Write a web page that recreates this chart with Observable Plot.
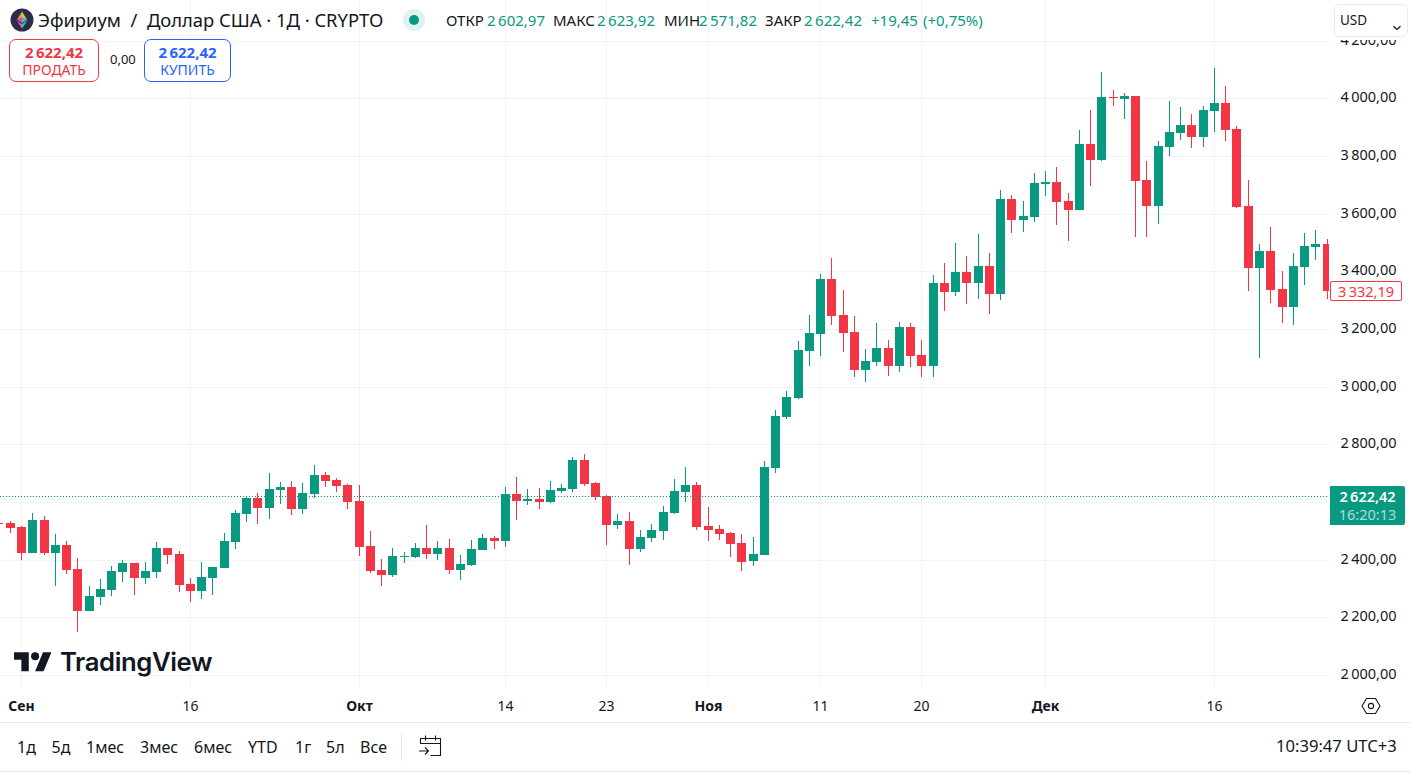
<!DOCTYPE html>
<html lang="ru">
<head>
<meta charset="utf-8">
<script src="https://cdn.jsdelivr.net/npm/d3@7"></script>
<script src="https://cdn.jsdelivr.net/npm/@observablehq/plot@0.6"></script>
<style>
html,body{margin:0;padding:0;background:#fff;}
#wrap{position:relative;width:1410px;height:772px;overflow:hidden;font-family:"Noto Sans",sans-serif;color:#131722;}
#wrap svg.chart{position:absolute;left:0;top:0;}
.o{position:absolute;white-space:nowrap;line-height:1;}
</style>
</head>
<body>
<div id="wrap"></div>
<script>
// Daily candles, first one 30 Aug, last one 26 Dec.
const firstDay = "2024-08-30";
const opens = [
  2527,2527,2513,2425,2538,2425,2451,2368,2222,2271,
  2295,2358,2389,2337,2358,2441,2420,2316,2292,2337,
  2371,2461,2559,2614,2579,2642,2652,2576,2628,2694,
  2676,2659,2604,2448,2364,2347,2410,2410,2441,2420,
  2441,2364,2382,2434,2475,2465,2628,2604,2611,2600,
  2638,2645,2746,2666,2621,2520,2534,2437,2475,2500,
  2562,2635,2659,2517,2507,2493,2458,2396,2416,2718,
  2895,2961,3124,3183,3373,3249,3190,3058,3086,3134,
  3072,3207,3110,3072,3360,3328,3398,3360,3418,3321,
  3651,3578,3588,3703,3710,3644,3613,3841,3786,4006,
  3998,4008,3717,3627,3831,3880,3907,3866,3956,3984,
  3894,3627,3412,3471,3339,3276,3415,3484,3495];
const closes = [
  2525,2510,2425,2538,2425,2451,2366,2222,2274,2298,
  2361,2389,2337,2361,2441,2416,2312,2292,2340,2375,
  2465,2562,2614,2579,2645,2652,2576,2631,2694,2673,
  2656,2600,2444,2361,2347,2413,2413,2441,2420,2441,
  2364,2385,2437,2475,2465,2628,2604,2611,2600,2642,
  2649,2746,2663,2618,2520,2534,2437,2479,2503,2566,
  2638,2659,2513,2503,2489,2455,2392,2420,2722,2898,
  2964,3127,3186,3373,3245,3186,3058,3089,3134,3072,
  3207,3106,3072,3360,3328,3398,3360,3418,3321,3651,
  3578,3592,3706,3710,3640,3613,3841,3786,4004,4002,
  4008,3713,3627,3835,3883,3907,3866,3959,3984,3890,
  3623,3412,3471,3335,3276,3418,3488,3495,3332.19];
const highs = [
  2530,2534,2517,2562,2552,2489,2465,2406,2309,2333,
  2378,2399,2389,2392,2461,2441,2430,2337,2392,2375,
  2493,2572,2621,2631,2701,2670,2673,2666,2728,2704,
  2683,2663,2659,2500,2403,2441,2427,2458,2520,2465,
  2472,2416,2468,2489,2482,2652,2687,2645,2649,2673,
  2663,2756,2767,2670,2624,2559,2566,2503,2524,2586,
  2680,2722,2670,2583,2520,2496,2489,2479,2742,2919,
  2985,3158,3249,3391,3446,3335,3245,3131,3221,3162,
  3224,3221,3162,3387,3429,3498,3453,3530,3464,3682,
  3665,3644,3741,3748,3762,3672,3890,3959,4091,4029,
  4018,4008,3783,3852,3991,3970,3946,3973,4105,4043,
  3904,3717,3495,3554,3401,3464,3533,3543,3512];
const lows = [
  2522,2493,2399,2424,2416,2309,2351,2149,2222,2243,
  2274,2323,2278,2316,2337,2385,2288,2253,2264,2278,
  2371,2437,2531,2524,2541,2593,2555,2559,2614,2652,
  2635,2576,2413,2354,2309,2340,2389,2406,2403,2399,
  2350,2330,2378,2434,2437,2444,2538,2590,2576,2597,
  2631,2635,2656,2607,2451,2507,2382,2427,2461,2468,
  2559,2600,2503,2465,2468,2409,2361,2378,2416,2701,
  2888,2957,3072,3106,3214,3120,3034,3016,3072,3037,
  3051,3068,3034,3034,3262,3314,3287,3304,3252,3301,
  3533,3536,3571,3661,3561,3505,3613,3696,3782,3973,
  3928,3519,3519,3564,3800,3855,3828,3831,3883,3852,
  3620,3332,3100,3290,3221,3214,3353,3439,3304];

const gridPrices = [2000,2200,2400,2600,2800,3000,3200,3400,3600,3800,4000,4200];
// 2 600,00 sits behind the last-price tag in the reference, so it has no visible label.
const labelledPrices = [2000,2200,2400,2800,3000,3200,3400,3600,3800,4000,4200];
const monthTickDays = ["2024-09-01","2024-10-01","2024-11-01","2024-12-01"];
const monthTickLabels = ["Сен","Окт","Ноя","Дек"];
const dayTickDays = ["2024-09-16","2024-10-14","2024-10-23","2024-11-11","2024-11-20","2024-12-16"];
const dayTickLabels = ["16","14","23","11","20","16"];

const lastPrice = 2622.42;
const prevClose = 3332.19;

const GREEN = "#089981", RED = "#F23645", GRID = "#F2F3F5", INK = "#131722";
const FONT = '"Noto Sans",sans-serif';
const DAY = 864e5;
const t0 = Date.parse(firstDay);
const candles = opens.map((open, i) => ({
  date: new Date(t0 + i * DAY), open, close: closes[i], high: highs[i], low: lows[i]
}));
const colorOf = d => d.close >= d.open ? GREEN : RED;

const num = d3.formatLocale({decimal: ",", thousands: "\u2009", grouping: [3]}).format(",.2f");
const mDates = monthTickDays.map(d => new Date(d));
const dDates = dayTickDays.map(d => new Date(d));
const lookup = (dates, labels) => v => labels[dates.findIndex(d => +d === +v)];

const chart = Plot.plot({
  width: 1410, height: 772,
  marginLeft: 0, marginRight: 81, marginTop: 0, marginBottom: 84,
  style: {fontFamily: FONT, background: "transparent", overflow: "visible"},
  x: {type: "utc", domain: [new Date(Date.parse("2024-09-01") - 1.866 * DAY), new Date(Date.parse("2024-09-01") + 116.22 * DAY)], round: true},
  y: {domain: [1955.3, 4340.9], round: true},
  marks: [
    Plot.gridX([...mDates, ...dDates], {stroke: GRID, strokeOpacity: 1}),
    Plot.gridY(gridPrices, {stroke: GRID, strokeOpacity: 1}),
    Plot.ruleX(candles, {x: "date", y1: "low", y2: "high", stroke: colorOf, strokeWidth: 1, clip: true}),
    Plot.ruleX(candles, {x: "date", y1: "open", y2: "close", stroke: colorOf, strokeWidth: 9, clip: true}),
    Plot.ruleY([lastPrice], {stroke: GREEN, strokeDasharray: "1 2", strokeWidth: 1, clip: true}),
    Plot.axisY(labelledPrices, {anchor: "right", label: null, tickSize: 0, tickPadding: 67, textAnchor: "end",
      tickFormat: num, fontSize: 14.5, dy: -1, color: INK}),
    Plot.axisX(mDates, {anchor: "bottom", label: null, tickSize: 0, tickPadding: 13, fontSize: 14, fontWeight: 700,
      tickFormat: lookup(mDates, monthTickLabels), color: INK}),
    Plot.axisX(dDates, {anchor: "bottom", label: null, tickSize: 0, tickPadding: 13, fontSize: 14,
      tickFormat: lookup(dDates, dayTickLabels), color: INK})
  ]
});
chart.classList.add("chart");
const wrap = document.getElementById("wrap");
wrap.appendChild(chart);

const yPx = v => chart.scale("y").apply(v);

function add(html, css) {
  const el = document.createElement("div");
  el.className = "o";
  el.style.cssText = css;
  el.innerHTML = html;
  wrap.appendChild(el);
  return el;
}
const mid = (x, cy, size) => `left:${x}px;top:${cy - size / 2}px;font-size:${size}px;`;

// Header
add(`<svg width="24" height="24" viewBox="0 0 24 24"><circle cx="12" cy="12" r="11.5" fill="#2b2d4a"/>
<path d="M12 3.5 6.8 12 12 9.6z" fill="#e9a23b"/><path d="M12 3.5 17.2 12 12 9.6z" fill="#e7c93f"/>
<path d="M6.8 12 12 15 12 9.6z" fill="#c84fb0"/><path d="M17.2 12 12 15 12 9.6z" fill="#4fb3d9"/>
<path d="M6.8 13 12 20.5 12 16z" fill="#e85a9a"/><path d="M17.2 13 12 20.5 12 16z" fill="#35c9a5"/></svg>`, "left:9.5px;top:8px;");
add("Эфириум&nbsp; /&nbsp; Доллар США · 1Д · CRYPTO", mid(38, 20, 18.4));
add(`<svg width="24" height="24"><circle cx="12" cy="12" r="11" fill="${GREEN}" fill-opacity=".13"/><circle cx="12" cy="12" r="5" fill="${GREEN}"/></svg>`, "left:402px;top:8px;");
const legend = [["ОТКР",446],["2\u2009602,97",487,1],["МАКС",553],["2\u2009623,92",597,1],["МИН",664],["2\u2009571,82",699,1],["ЗАКР",765],["2\u2009622,42",804,1],["+19,45",871,1],["(+0,75%)",923,1]];
for (const [t, x, g] of legend) add(t, mid(x, 20, 15) + (g ? `color:${GREEN};` : ""));

// Sell / buy
const box = (x, w, col, label) => {
  add("", `left:${x}px;top:39px;width:${w}px;height:41px;border:1px solid ${col};border-radius:7px;background:#fff;box-sizing:content-box;`);
  add(`<b style="font-weight:700">2\u2009622,42</b>`, `left:${x}px;width:${w + 2}px;text-align:center;top:44.5px;font-size:15px;color:${col};`);
  add(label, `left:${x}px;width:${w + 2}px;text-align:center;top:63px;font-size:14px;color:${col};`);
};
box(9, 88, RED, "ПРОДАТЬ");
box(144, 85, "#2962FF", "КУПИТЬ");
add("0,00", mid(110, 59, 13));

// Currency box covers the top of the price scale
add("", "left:1330px;top:0;width:80px;height:40px;background:#fff;");
add("USD", "left:1340px;top:13.5px;font-size:13.5px;");
add("", "left:1334px;top:4px;width:72px;height:31px;border:1px solid #E9EBF0;border-radius:6px;");
add(`<svg width="10" height="6"><path d="M1.5 1.2 5 4.4 8.5 1.2" fill="none" stroke="#131722" stroke-width="1.3"/></svg>`, "left:1392px;top:17px;");

// Price tags placed through the y scale
const tagLast = yPx(lastPrice);
add("", `left:1330px;top:${tagLast - 10}px;width:75px;height:39px;background:${GREEN};border-radius:0 2px 2px 0;`);
add("2\u2009622,42", `left:1330px;top:${tagLast - 7.5}px;width:75px;font-weight:600;font-size:14.5px;color:#fff;text-align:center;`);
add("16:20:13", `left:1330px;top:${tagLast + 11}px;width:75px;font-size:14.5px;color:rgba(255,255,255,.68);text-align:center;`);
const tagPrev = yPx(prevClose);
add(`3\u2009332,19`, `left:1330px;top:${tagPrev - 10}px;width:70px;height:18px;line-height:18px;border:1px solid ${RED};border-radius:2px;background:#fff;color:${RED};font-size:14.5px;text-align:center;`);

// TradingView mark
add(`<svg width="38" height="20" viewBox="0 0 36 18.5"><path d="M14 18H7V7H0V0h14zM28 18h-8L27.5 0h8z" fill="${INK}"/><circle cx="20" cy="3.8" r="3.8" fill="${INK}"/></svg>`, "left:14px;top:651.5px;");
add("TradingView", `left:60px;top:647px;font-family:Inter,sans-serif;font-weight:600;font-size:25.7px;letter-spacing:-.4px;line-height:30px;color:${INK};`);

// Axis corner icon
add(`<svg width="20" height="18" viewBox="0 0 20 18"><path d="M5.5 1.5h9L19 9l-4.5 7.5h-9L1 9z" fill="none" stroke="${INK}" stroke-width="1.1"/><circle cx="10" cy="9" r="2.6" fill="none" stroke="${INK}" stroke-width="1.1"/></svg>`, "left:1361px;top:697px;");

// Bottom bar
add("", "left:0;top:722px;width:1410px;height:1px;background:#E6E8EE;");
add("", "left:0;top:771px;width:1410px;height:1px;background:#E6E8EE;");
add("", "left:401px;top:733px;width:1px;height:28px;background:#E6E8EE;");
const ranges = [["1д",17],["5д",51.5],["1мес",86],["3мес",140],["6мес",194],["YTD",248],["1г",295],["5л",326],["Все",360]];
for (const [t, x] of ranges) add(t, mid(x, 746.5, 16));
add(`<svg width="26" height="24" viewBox="0 0 26 24" fill="none" stroke="${INK}" stroke-width="1.1"><path d="M2.5 10V4.5h20v17h-10M2.5 9.5h20M7.5 1.5v5M17.5 1.5v5M1 17h9M7 13.5 10.5 17 7 20.5"/></svg>`, "left:417.5px;top:734px;");
add("10:39:47 UTC+3", mid(1276, 746.5, 16.6));
</script>
</body>
</html>
